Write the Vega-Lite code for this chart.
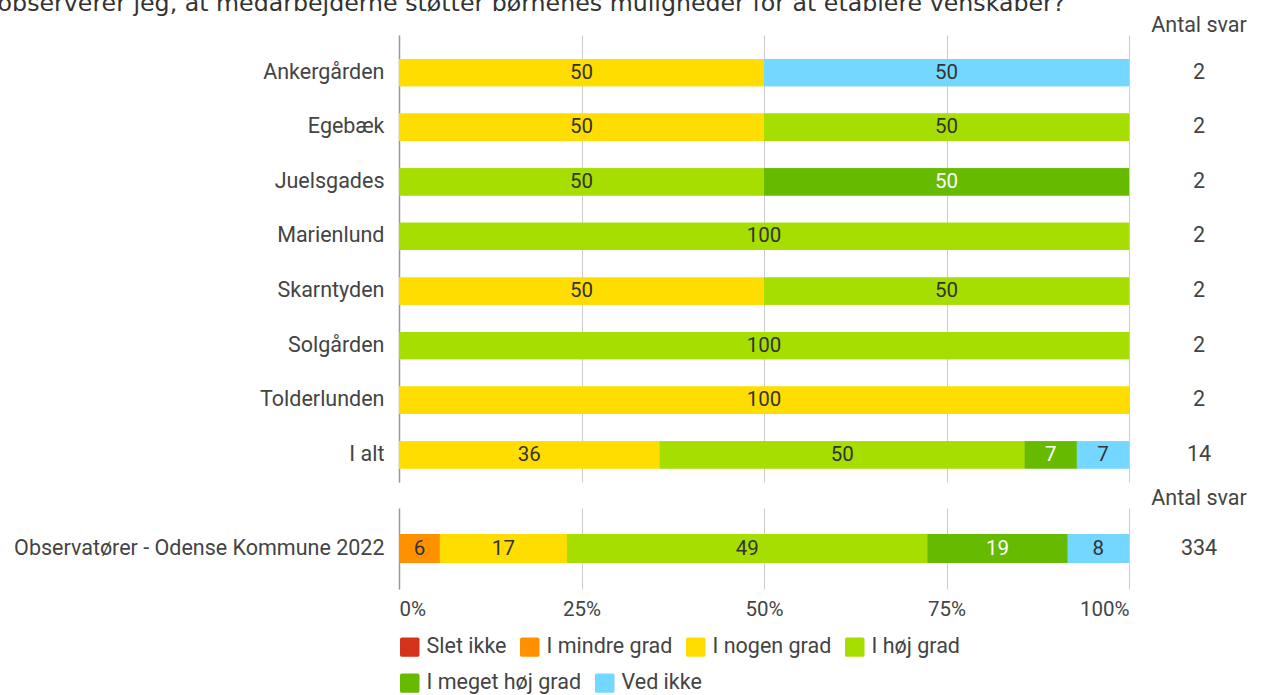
{
  "$schema": "https://vega.github.io/schema/vega-lite/v6.json",
  "padding": {"left": -3, "top": -9, "right": 5, "bottom": 5},
  "background": "white",
  "title": {"text": "observerer jeg, at medarbejderne støtter børnenes muligheder for at etablere venskaber?", "font": "DejaVu Sans", "fontSize": 23.7, "fontWeight": "normal", "color": "#333", "anchor": "start", "frame": "bounds", "dx": -16, "offset": -1},
  "datasets": {
    "top": [
      {"name": "Ankergården", "cat": "I nogen grad", "k": 3, "pct": 50},
      {"name": "Ankergården", "cat": "Ved ikke", "k": 6, "pct": 50},
      {"name": "Egebæk", "cat": "I nogen grad", "k": 3, "pct": 50},
      {"name": "Egebæk", "cat": "I høj grad", "k": 4, "pct": 50},
      {"name": "Juelsgades", "cat": "I høj grad", "k": 4, "pct": 50},
      {"name": "Juelsgades", "cat": "I meget høj grad", "k": 5, "pct": 50},
      {"name": "Marienlund", "cat": "I høj grad", "k": 4, "pct": 100},
      {"name": "Skarntyden", "cat": "I nogen grad", "k": 3, "pct": 50},
      {"name": "Skarntyden", "cat": "I høj grad", "k": 4, "pct": 50},
      {"name": "Solgården", "cat": "I høj grad", "k": 4, "pct": 100},
      {"name": "Tolderlunden", "cat": "I nogen grad", "k": 3, "pct": 100},
      {"name": "I alt", "cat": "I nogen grad", "k": 3, "pct": 35.71},
      {"name": "I alt", "cat": "I høj grad", "k": 4, "pct": 50},
      {"name": "I alt", "cat": "I meget høj grad", "k": 5, "pct": 7.14},
      {"name": "I alt", "cat": "Ved ikke", "k": 6, "pct": 7.15}
    ],
    "topN": [
      {"name": "Ankergården", "n": 2},
      {"name": "Egebæk", "n": 2},
      {"name": "Juelsgades", "n": 2},
      {"name": "Marienlund", "n": 2},
      {"name": "Skarntyden", "n": 2},
      {"name": "Solgården", "n": 2},
      {"name": "Tolderlunden", "n": 2},
      {"name": "I alt", "n": 14}
    ],
    "bot": [
      {"name": "Observatører - Odense Kommune 2022", "cat": "I mindre grad", "k": 2, "pct": 5.6},
      {"name": "Observatører - Odense Kommune 2022", "cat": "I nogen grad", "k": 3, "pct": 17.4},
      {"name": "Observatører - Odense Kommune 2022", "cat": "I høj grad", "k": 4, "pct": 49.4},
      {"name": "Observatører - Odense Kommune 2022", "cat": "I meget høj grad", "k": 5, "pct": 19.2},
      {"name": "Observatører - Odense Kommune 2022", "cat": "Ved ikke", "k": 6, "pct": 8.4}
    ],
    "botN": [
      {"name": "Observatører - Odense Kommune 2022", "n": 334}
    ]
  },
  "config": {
    "view": {"stroke": null},
    "concat": {"spacing": 20},
    "axis": {"labelFont": "Roboto", "labelFontSize": 21.5, "labelColor": "#444", "gridColor": "#cccccc", "gridWidth": 1, "labelLimit": 600},
    "title": {"font": "Roboto", "fontSize": 21.5, "fontWeight": "normal", "color": "#444"},
    "legend": {"labelFont": "Roboto", "labelFontSize": 21.5, "labelColor": "#444", "layout": {"bottom": {"direction": "vertical", "anchor": "start", "margin": 14}}}
  },
  "spacing": 5,
  "vconcat": [
    {
      "bounds": "flush",
      "spacing": 20,
      "hconcat": [
        {
          "width": 730,
          "height": 447,
          "data": {"name": "top"},
          "encoding": {
            "y": {"field": "name", "type": "nominal", "sort": null, "scale": {"type": "band", "paddingInner": 0.5, "paddingOuter": 0.343, "align": 0.64}, "axis": {"title": null, "ticks": false, "labelPadding": 15, "domainColor": "#999999", "domainWidth": 1.5}},
            "x": {"field": "pct", "type": "quantitative", "stack": "zero", "scale": {"domain": [0, 100]}, "axis": {"title": null, "labels": false, "ticks": false, "domain": false, "values": [0, 25, 50, 75, 100], "grid": true}}
          },
          "layer": [
            {
              "mark": {"type": "bar"},
              "encoding": {
                "color": {"field": "cat", "type": "nominal", "scale": {"domain": ["Slet ikke", "I mindre grad", "I nogen grad", "I høj grad", "I meget høj grad", "Ved ikke"], "range": ["#d4321a", "#ff9100", "#ffdd00", "#a5de00", "#66bb00", "#73d7ff"]}, "legend": {"title": null, "orient": "bottom", "direction": "horizontal", "values": ["Slet ikke", "I mindre grad", "I nogen grad", "I høj grad"], "symbolType": "M-0.8,-1H0.8Q1,-1 1,-0.8V0.8Q1,1 0.8,1H-0.8Q-1,1 -1,0.8V-0.8Q-1,-1 -0.8,-1Z", "symbolSize": 380, "symbolStrokeWidth": 0, "symbolOpacity": 1, "labelOffset": 6, "columnPadding": 12, "offset": 16}},
                "order": {"field": "k", "type": "quantitative"}
              }
            },
            {
              "mark": {"type": "bar"},
              "encoding": {
                "fill": {"field": "cat", "type": "nominal", "scale": {"domain": ["I meget høj grad", "Ved ikke", "Slet ikke", "I mindre grad", "I nogen grad", "I høj grad"], "range": ["#66bb00", "#73d7ff", "#d4321a", "#ff9100", "#ffdd00", "#a5de00"]}, "legend": {"title": null, "orient": "bottom", "direction": "horizontal", "values": ["I meget høj grad", "Ved ikke"], "symbolType": "M-0.8,-1H0.8Q1,-1 1,-0.8V0.8Q1,1 0.8,1H-0.8Q-1,1 -1,0.8V-0.8Q-1,-1 -0.8,-1Z", "symbolSize": 380, "symbolStrokeWidth": 0, "symbolOpacity": 1, "labelOffset": 6, "columnPadding": 12, "offset": 16}},
                "order": {"field": "k", "type": "quantitative"}
              }
            },
            {
              "mark": {"type": "text", "font": "Roboto", "fontSize": 20.5},
              "encoding": {
                "x": {"field": "pct", "type": "quantitative", "stack": "zero", "bandPosition": 0.5},
                "detail": {"field": "cat", "type": "nominal"},
                "order": {"field": "k", "type": "quantitative"},
                "text": {"field": "pct", "type": "quantitative", "format": ".0f"},
                "color": {"condition": {"test": "datum.cat === 'I meget høj grad'", "value": "#ffffff"}, "value": "#333333"}
              }
            }
          ]
        },
        {
          "width": 100,
          "height": 447,
          "data": {"name": "topN"},
          "title": {"text": "Antal svar", "offset": -1},
          "mark": {"type": "text", "font": "Roboto", "fontSize": 21.5, "color": "#444"},
          "encoding": {
            "y": {"field": "name", "type": "nominal", "sort": null, "scale": {"type": "band", "paddingInner": 0.5, "paddingOuter": 0.343, "align": 0.64}, "axis": null},
            "text": {"field": "n", "type": "quantitative"}
          }
        }
      ]
    },
    {
      "bounds": "flush",
      "spacing": 20,
      "hconcat": [
        {
          "width": 730,
          "height": 81,
          "data": {"name": "bot"},
          "encoding": {
            "y": {"field": "name", "type": "nominal", "sort": null, "scale": {"type": "band", "paddingInner": 0.5, "paddingOuter": 0.448}, "axis": {"title": null, "ticks": false, "labelPadding": 15, "domainColor": "#999999", "domainWidth": 1.5}},
            "x": {"field": "pct", "type": "quantitative", "stack": "zero", "scale": {"domain": [0, 100]}, "axis": {"title": null, "ticks": false, "domain": false, "values": [0, 25, 50, 75, 100], "grid": true, "labelFlush": true, "labelPadding": 10, "labelFontSize": 20.5, "labelExpr": "datum.value + '%'"}}
          },
          "layer": [
            {
              "mark": {"type": "bar"},
              "encoding": {
                "color": {"field": "cat", "type": "nominal"},
                "order": {"field": "k", "type": "quantitative"}
              }
            },
            {
              "mark": {"type": "bar"},
              "encoding": {
                "fill": {"field": "cat", "type": "nominal"},
                "order": {"field": "k", "type": "quantitative"}
              }
            },
            {
              "mark": {"type": "text", "font": "Roboto", "fontSize": 20.5},
              "encoding": {
                "x": {"field": "pct", "type": "quantitative", "stack": "zero", "bandPosition": 0.5},
                "detail": {"field": "cat", "type": "nominal"},
                "order": {"field": "k", "type": "quantitative"},
                "text": {"field": "pct", "type": "quantitative", "format": ".0f"},
                "color": {"condition": {"test": "datum.cat === 'I meget høj grad'", "value": "#ffffff"}, "value": "#333333"}
              }
            }
          ]
        },
        {
          "width": 100,
          "height": 81,
          "data": {"name": "botN"},
          "title": {"text": "Antal svar", "offset": -1},
          "mark": {"type": "text", "font": "Roboto", "fontSize": 21.5, "color": "#444"},
          "encoding": {
            "y": {"field": "name", "type": "nominal", "sort": null, "scale": {"type": "band", "paddingInner": 0.5, "paddingOuter": 0.448}, "axis": null},
            "text": {"field": "n", "type": "quantitative"}
          }
        }
      ]
    }
  ]
}
